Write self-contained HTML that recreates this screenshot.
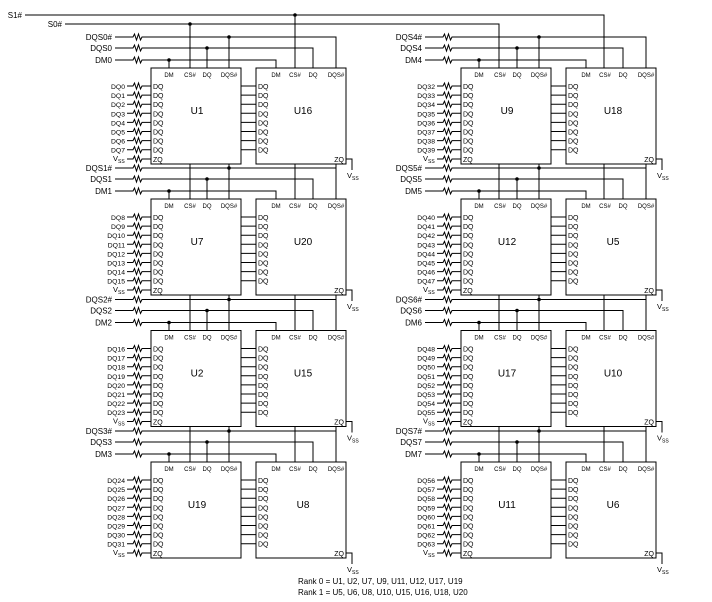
<!DOCTYPE html>
<html><head><meta charset="utf-8"><style>
html,body{margin:0;padding:0;background:#fff}
svg{display:block}
text{font-family:"Liberation Sans",sans-serif;fill:#000}
.s{font-size:8px}.p{font-size:6px}.q{font-size:7px}.d{font-size:6.8px}.n{font-size:10px}.v{font-size:7.5px}.ss{font-size:5px}
</style></head><body>
<svg width="712" height="602" viewBox="0 0 712 602" xmlns="http://www.w3.org/2000/svg">
<defs>
<g id="blk" fill="none" stroke="#000" stroke-width="1">
<path d="M115,-31h18l1.5-3 2,6 2-6 2,6 1.5-3H336V0M115,-20h18l1.5-3 2,6 2-6 2,6 1.5-3H313V0M115,-8h18l1.5-3 2,6 2-6 2,6 1.5-3H276V0M229,-31V0M207,-20V0M169,-8V0"/>
<path d="M127,18h6l1.5-3 2,6 2-6 2,6 1.5-3h9M127,27.1h6l1.5-3 2,6 2-6 2,6 1.5-3h9M127,36.2h6l1.5-3 2,6 2-6 2,6 1.5-3h9M127,45.3h6l1.5-3 2,6 2-6 2,6 1.5-3h9M127,54.4h6l1.5-3 2,6 2-6 2,6 1.5-3h9M127,63.5h6l1.5-3 2,6 2-6 2,6 1.5-3h9M127,72.6h6l1.5-3 2,6 2-6 2,6 1.5-3h9M127,81.7h6l1.5-3 2,6 2-6 2,6 1.5-3h9M127,91h6l1.5-3 2,6 2-6 2,6 1.5-3h9"/>
<path d="M241,18H256M241,27.1H256M241,36.2H256M241,45.3H256M241,54.4H256M241,63.5H256M241,72.6H256M241,81.7H256M346,91H352V102"/>
<rect x="151" y="0" width="90" height="96" fill="#fff"/>
<rect x="256" y="0" width="90" height="96" fill="#fff"/>
<g fill="#000" stroke="none"><circle cx="229" cy="-31" r="1.8"/><circle cx="207" cy="-20" r="1.8"/><circle cx="169" cy="-8" r="1.8"/></g>
</g>
<path id="cont" d="M229,-35V-31M336,-35V-31" stroke="#000" fill="none"/>
</defs>

<g fill="none" stroke="#000" stroke-width="1">
<path d="M25,15H604V462M65,24H499V462M190,24V462M295,15V462"/>
</g>
<circle cx="190" cy="24" r="1.8"/><circle cx="295" cy="15" r="1.8"/>
<text class="s" x="22" y="18" text-anchor="end">S1#</text>
<text class="s" x="62" y="27" text-anchor="end">S0#</text>

<use href="#blk" transform="translate(0,68)"/>
<use href="#blk" transform="translate(0,199)"/><use href="#cont" transform="translate(0,199)"/>
<use href="#blk" transform="translate(0,330.5)"/><use href="#cont" transform="translate(0,330.5)"/>
<use href="#blk" transform="translate(0,462)"/><use href="#cont" transform="translate(0,462)"/>
<use href="#blk" transform="translate(310,68)"/>
<use href="#blk" transform="translate(310,199)"/><use href="#cont" transform="translate(310,199)"/>
<use href="#blk" transform="translate(310,330.5)"/><use href="#cont" transform="translate(310,330.5)"/>
<use href="#blk" transform="translate(310,462)"/><use href="#cont" transform="translate(310,462)"/>

<!-- Block texts -->
<g transform="translate(0,68)">
<text class="s" text-anchor="end"><tspan x="112" y="-28">DQS0#</tspan><tspan x="112" y="-17">DQS0</tspan><tspan x="112" y="-5">DM0</tspan></text>
<text class="p" text-anchor="middle" y="9"><tspan x="169">DM</tspan><tspan x="190">CS#</tspan><tspan x="207">DQ</tspan><tspan x="229">DQS#</tspan><tspan x="276">DM</tspan><tspan x="295">CS#</tspan><tspan x="313">DQ</tspan><tspan x="336">DQS#</tspan></text>
<text class="q"><tspan x="153" y="21">DQ</tspan><tspan x="153" y="30.1">DQ</tspan><tspan x="153" y="39.2">DQ</tspan><tspan x="153" y="48.3">DQ</tspan><tspan x="153" y="57.4">DQ</tspan><tspan x="153" y="66.5">DQ</tspan><tspan x="153" y="75.6">DQ</tspan><tspan x="153" y="84.7">DQ</tspan><tspan x="153" y="94">ZQ</tspan></text>
<text class="q"><tspan x="258" y="21">DQ</tspan><tspan x="258" y="30.1">DQ</tspan><tspan x="258" y="39.2">DQ</tspan><tspan x="258" y="48.3">DQ</tspan><tspan x="258" y="57.4">DQ</tspan><tspan x="258" y="66.5">DQ</tspan><tspan x="258" y="75.6">DQ</tspan><tspan x="258" y="84.7">DQ</tspan></text>
<text class="q" x="344" y="94" text-anchor="end">ZQ</text>
<text class="d" text-anchor="end"><tspan x="125" y="21">DQ0</tspan><tspan x="125" y="30.1">DQ1</tspan><tspan x="125" y="39.2">DQ2</tspan><tspan x="125" y="48.3">DQ3</tspan><tspan x="125" y="57.4">DQ4</tspan><tspan x="125" y="66.5">DQ5</tspan><tspan x="125" y="75.6">DQ6</tspan><tspan x="125" y="84.7">DQ7</tspan></text>
<text class="v" x="113" y="93">V</text><text class="ss" x="118" y="95">SS</text>
<text class="v" x="347" y="110">V</text><text class="ss" x="352" y="112">SS</text>
<text class="n" text-anchor="middle" y="46"><tspan x="197">U1</tspan><tspan x="303">U16</tspan></text>
</g>

<g transform="translate(0,199)">
<text class="s" text-anchor="end"><tspan x="112" y="-28">DQS1#</tspan><tspan x="112" y="-17">DQS1</tspan><tspan x="112" y="-5">DM1</tspan></text>
<text class="p" text-anchor="middle" y="9"><tspan x="169">DM</tspan><tspan x="190">CS#</tspan><tspan x="207">DQ</tspan><tspan x="229">DQS#</tspan><tspan x="276">DM</tspan><tspan x="295">CS#</tspan><tspan x="313">DQ</tspan><tspan x="336">DQS#</tspan></text>
<text class="q"><tspan x="153" y="21">DQ</tspan><tspan x="153" y="30.1">DQ</tspan><tspan x="153" y="39.2">DQ</tspan><tspan x="153" y="48.3">DQ</tspan><tspan x="153" y="57.4">DQ</tspan><tspan x="153" y="66.5">DQ</tspan><tspan x="153" y="75.6">DQ</tspan><tspan x="153" y="84.7">DQ</tspan><tspan x="153" y="94">ZQ</tspan></text>
<text class="q"><tspan x="258" y="21">DQ</tspan><tspan x="258" y="30.1">DQ</tspan><tspan x="258" y="39.2">DQ</tspan><tspan x="258" y="48.3">DQ</tspan><tspan x="258" y="57.4">DQ</tspan><tspan x="258" y="66.5">DQ</tspan><tspan x="258" y="75.6">DQ</tspan><tspan x="258" y="84.7">DQ</tspan></text>
<text class="q" x="344" y="94" text-anchor="end">ZQ</text>
<text class="d" text-anchor="end"><tspan x="125" y="21">DQ8</tspan><tspan x="125" y="30.1">DQ9</tspan><tspan x="125" y="39.2">DQ10</tspan><tspan x="125" y="48.3">DQ11</tspan><tspan x="125" y="57.4">DQ12</tspan><tspan x="125" y="66.5">DQ13</tspan><tspan x="125" y="75.6">DQ14</tspan><tspan x="125" y="84.7">DQ15</tspan></text>
<text class="v" x="113" y="93">V</text><text class="ss" x="118" y="95">SS</text>
<text class="v" x="347" y="110">V</text><text class="ss" x="352" y="112">SS</text>
<text class="n" text-anchor="middle" y="46"><tspan x="197">U7</tspan><tspan x="303">U20</tspan></text>
</g>

<g transform="translate(0,330.5)">
<text class="s" text-anchor="end"><tspan x="112" y="-28">DQS2#</tspan><tspan x="112" y="-17">DQS2</tspan><tspan x="112" y="-5">DM2</tspan></text>
<text class="p" text-anchor="middle" y="9"><tspan x="169">DM</tspan><tspan x="190">CS#</tspan><tspan x="207">DQ</tspan><tspan x="229">DQS#</tspan><tspan x="276">DM</tspan><tspan x="295">CS#</tspan><tspan x="313">DQ</tspan><tspan x="336">DQS#</tspan></text>
<text class="q"><tspan x="153" y="21">DQ</tspan><tspan x="153" y="30.1">DQ</tspan><tspan x="153" y="39.2">DQ</tspan><tspan x="153" y="48.3">DQ</tspan><tspan x="153" y="57.4">DQ</tspan><tspan x="153" y="66.5">DQ</tspan><tspan x="153" y="75.6">DQ</tspan><tspan x="153" y="84.7">DQ</tspan><tspan x="153" y="94">ZQ</tspan></text>
<text class="q"><tspan x="258" y="21">DQ</tspan><tspan x="258" y="30.1">DQ</tspan><tspan x="258" y="39.2">DQ</tspan><tspan x="258" y="48.3">DQ</tspan><tspan x="258" y="57.4">DQ</tspan><tspan x="258" y="66.5">DQ</tspan><tspan x="258" y="75.6">DQ</tspan><tspan x="258" y="84.7">DQ</tspan></text>
<text class="q" x="344" y="94" text-anchor="end">ZQ</text>
<text class="d" text-anchor="end"><tspan x="125" y="21">DQ16</tspan><tspan x="125" y="30.1">DQ17</tspan><tspan x="125" y="39.2">DQ18</tspan><tspan x="125" y="48.3">DQ19</tspan><tspan x="125" y="57.4">DQ20</tspan><tspan x="125" y="66.5">DQ21</tspan><tspan x="125" y="75.6">DQ22</tspan><tspan x="125" y="84.7">DQ23</tspan></text>
<text class="v" x="113" y="93">V</text><text class="ss" x="118" y="95">SS</text>
<text class="v" x="347" y="110">V</text><text class="ss" x="352" y="112">SS</text>
<text class="n" text-anchor="middle" y="46"><tspan x="197">U2</tspan><tspan x="303">U15</tspan></text>
</g>

<g transform="translate(0,462)">
<text class="s" text-anchor="end"><tspan x="112" y="-28">DQS3#</tspan><tspan x="112" y="-17">DQS3</tspan><tspan x="112" y="-5">DM3</tspan></text>
<text class="p" text-anchor="middle" y="9"><tspan x="169">DM</tspan><tspan x="190">CS#</tspan><tspan x="207">DQ</tspan><tspan x="229">DQS#</tspan><tspan x="276">DM</tspan><tspan x="295">CS#</tspan><tspan x="313">DQ</tspan><tspan x="336">DQS#</tspan></text>
<text class="q"><tspan x="153" y="21">DQ</tspan><tspan x="153" y="30.1">DQ</tspan><tspan x="153" y="39.2">DQ</tspan><tspan x="153" y="48.3">DQ</tspan><tspan x="153" y="57.4">DQ</tspan><tspan x="153" y="66.5">DQ</tspan><tspan x="153" y="75.6">DQ</tspan><tspan x="153" y="84.7">DQ</tspan><tspan x="153" y="94">ZQ</tspan></text>
<text class="q"><tspan x="258" y="21">DQ</tspan><tspan x="258" y="30.1">DQ</tspan><tspan x="258" y="39.2">DQ</tspan><tspan x="258" y="48.3">DQ</tspan><tspan x="258" y="57.4">DQ</tspan><tspan x="258" y="66.5">DQ</tspan><tspan x="258" y="75.6">DQ</tspan><tspan x="258" y="84.7">DQ</tspan></text>
<text class="q" x="344" y="94" text-anchor="end">ZQ</text>
<text class="d" text-anchor="end"><tspan x="125" y="21">DQ24</tspan><tspan x="125" y="30.1">DQ25</tspan><tspan x="125" y="39.2">DQ26</tspan><tspan x="125" y="48.3">DQ27</tspan><tspan x="125" y="57.4">DQ28</tspan><tspan x="125" y="66.5">DQ29</tspan><tspan x="125" y="75.6">DQ30</tspan><tspan x="125" y="84.7">DQ31</tspan></text>
<text class="v" x="113" y="93">V</text><text class="ss" x="118" y="95">SS</text>
<text class="v" x="347" y="110">V</text><text class="ss" x="352" y="112">SS</text>
<text class="n" text-anchor="middle" y="46"><tspan x="197">U19</tspan><tspan x="303">U8</tspan></text>
</g>

<g transform="translate(310,68)">
<text class="s" text-anchor="end"><tspan x="112" y="-28">DQS4#</tspan><tspan x="112" y="-17">DQS4</tspan><tspan x="112" y="-5">DM4</tspan></text>
<text class="p" text-anchor="middle" y="9"><tspan x="169">DM</tspan><tspan x="190">CS#</tspan><tspan x="207">DQ</tspan><tspan x="229">DQS#</tspan><tspan x="276">DM</tspan><tspan x="295">CS#</tspan><tspan x="313">DQ</tspan><tspan x="336">DQS#</tspan></text>
<text class="q"><tspan x="153" y="21">DQ</tspan><tspan x="153" y="30.1">DQ</tspan><tspan x="153" y="39.2">DQ</tspan><tspan x="153" y="48.3">DQ</tspan><tspan x="153" y="57.4">DQ</tspan><tspan x="153" y="66.5">DQ</tspan><tspan x="153" y="75.6">DQ</tspan><tspan x="153" y="84.7">DQ</tspan><tspan x="153" y="94">ZQ</tspan></text>
<text class="q"><tspan x="258" y="21">DQ</tspan><tspan x="258" y="30.1">DQ</tspan><tspan x="258" y="39.2">DQ</tspan><tspan x="258" y="48.3">DQ</tspan><tspan x="258" y="57.4">DQ</tspan><tspan x="258" y="66.5">DQ</tspan><tspan x="258" y="75.6">DQ</tspan><tspan x="258" y="84.7">DQ</tspan></text>
<text class="q" x="344" y="94" text-anchor="end">ZQ</text>
<text class="d" text-anchor="end"><tspan x="125" y="21">DQ32</tspan><tspan x="125" y="30.1">DQ33</tspan><tspan x="125" y="39.2">DQ34</tspan><tspan x="125" y="48.3">DQ35</tspan><tspan x="125" y="57.4">DQ36</tspan><tspan x="125" y="66.5">DQ37</tspan><tspan x="125" y="75.6">DQ38</tspan><tspan x="125" y="84.7">DQ39</tspan></text>
<text class="v" x="113" y="93">V</text><text class="ss" x="118" y="95">SS</text>
<text class="v" x="347" y="110">V</text><text class="ss" x="352" y="112">SS</text>
<text class="n" text-anchor="middle" y="46"><tspan x="197">U9</tspan><tspan x="303">U18</tspan></text>
</g>

<g transform="translate(310,199)">
<text class="s" text-anchor="end"><tspan x="112" y="-28">DQS5#</tspan><tspan x="112" y="-17">DQS5</tspan><tspan x="112" y="-5">DM5</tspan></text>
<text class="p" text-anchor="middle" y="9"><tspan x="169">DM</tspan><tspan x="190">CS#</tspan><tspan x="207">DQ</tspan><tspan x="229">DQS#</tspan><tspan x="276">DM</tspan><tspan x="295">CS#</tspan><tspan x="313">DQ</tspan><tspan x="336">DQS#</tspan></text>
<text class="q"><tspan x="153" y="21">DQ</tspan><tspan x="153" y="30.1">DQ</tspan><tspan x="153" y="39.2">DQ</tspan><tspan x="153" y="48.3">DQ</tspan><tspan x="153" y="57.4">DQ</tspan><tspan x="153" y="66.5">DQ</tspan><tspan x="153" y="75.6">DQ</tspan><tspan x="153" y="84.7">DQ</tspan><tspan x="153" y="94">ZQ</tspan></text>
<text class="q"><tspan x="258" y="21">DQ</tspan><tspan x="258" y="30.1">DQ</tspan><tspan x="258" y="39.2">DQ</tspan><tspan x="258" y="48.3">DQ</tspan><tspan x="258" y="57.4">DQ</tspan><tspan x="258" y="66.5">DQ</tspan><tspan x="258" y="75.6">DQ</tspan><tspan x="258" y="84.7">DQ</tspan></text>
<text class="q" x="344" y="94" text-anchor="end">ZQ</text>
<text class="d" text-anchor="end"><tspan x="125" y="21">DQ40</tspan><tspan x="125" y="30.1">DQ41</tspan><tspan x="125" y="39.2">DQ42</tspan><tspan x="125" y="48.3">DQ43</tspan><tspan x="125" y="57.4">DQ44</tspan><tspan x="125" y="66.5">DQ45</tspan><tspan x="125" y="75.6">DQ46</tspan><tspan x="125" y="84.7">DQ47</tspan></text>
<text class="v" x="113" y="93">V</text><text class="ss" x="118" y="95">SS</text>
<text class="v" x="347" y="110">V</text><text class="ss" x="352" y="112">SS</text>
<text class="n" text-anchor="middle" y="46"><tspan x="197">U12</tspan><tspan x="303">U5</tspan></text>
</g>

<g transform="translate(310,330.5)">
<text class="s" text-anchor="end"><tspan x="112" y="-28">DQS6#</tspan><tspan x="112" y="-17">DQS6</tspan><tspan x="112" y="-5">DM6</tspan></text>
<text class="p" text-anchor="middle" y="9"><tspan x="169">DM</tspan><tspan x="190">CS#</tspan><tspan x="207">DQ</tspan><tspan x="229">DQS#</tspan><tspan x="276">DM</tspan><tspan x="295">CS#</tspan><tspan x="313">DQ</tspan><tspan x="336">DQS#</tspan></text>
<text class="q"><tspan x="153" y="21">DQ</tspan><tspan x="153" y="30.1">DQ</tspan><tspan x="153" y="39.2">DQ</tspan><tspan x="153" y="48.3">DQ</tspan><tspan x="153" y="57.4">DQ</tspan><tspan x="153" y="66.5">DQ</tspan><tspan x="153" y="75.6">DQ</tspan><tspan x="153" y="84.7">DQ</tspan><tspan x="153" y="94">ZQ</tspan></text>
<text class="q"><tspan x="258" y="21">DQ</tspan><tspan x="258" y="30.1">DQ</tspan><tspan x="258" y="39.2">DQ</tspan><tspan x="258" y="48.3">DQ</tspan><tspan x="258" y="57.4">DQ</tspan><tspan x="258" y="66.5">DQ</tspan><tspan x="258" y="75.6">DQ</tspan><tspan x="258" y="84.7">DQ</tspan></text>
<text class="q" x="344" y="94" text-anchor="end">ZQ</text>
<text class="d" text-anchor="end"><tspan x="125" y="21">DQ48</tspan><tspan x="125" y="30.1">DQ49</tspan><tspan x="125" y="39.2">DQ50</tspan><tspan x="125" y="48.3">DQ51</tspan><tspan x="125" y="57.4">DQ52</tspan><tspan x="125" y="66.5">DQ53</tspan><tspan x="125" y="75.6">DQ54</tspan><tspan x="125" y="84.7">DQ55</tspan></text>
<text class="v" x="113" y="93">V</text><text class="ss" x="118" y="95">SS</text>
<text class="v" x="347" y="110">V</text><text class="ss" x="352" y="112">SS</text>
<text class="n" text-anchor="middle" y="46"><tspan x="197">U17</tspan><tspan x="303">U10</tspan></text>
</g>

<g transform="translate(310,462)">
<text class="s" text-anchor="end"><tspan x="112" y="-28">DQS7#</tspan><tspan x="112" y="-17">DQS7</tspan><tspan x="112" y="-5">DM7</tspan></text>
<text class="p" text-anchor="middle" y="9"><tspan x="169">DM</tspan><tspan x="190">CS#</tspan><tspan x="207">DQ</tspan><tspan x="229">DQS#</tspan><tspan x="276">DM</tspan><tspan x="295">CS#</tspan><tspan x="313">DQ</tspan><tspan x="336">DQS#</tspan></text>
<text class="q"><tspan x="153" y="21">DQ</tspan><tspan x="153" y="30.1">DQ</tspan><tspan x="153" y="39.2">DQ</tspan><tspan x="153" y="48.3">DQ</tspan><tspan x="153" y="57.4">DQ</tspan><tspan x="153" y="66.5">DQ</tspan><tspan x="153" y="75.6">DQ</tspan><tspan x="153" y="84.7">DQ</tspan><tspan x="153" y="94">ZQ</tspan></text>
<text class="q"><tspan x="258" y="21">DQ</tspan><tspan x="258" y="30.1">DQ</tspan><tspan x="258" y="39.2">DQ</tspan><tspan x="258" y="48.3">DQ</tspan><tspan x="258" y="57.4">DQ</tspan><tspan x="258" y="66.5">DQ</tspan><tspan x="258" y="75.6">DQ</tspan><tspan x="258" y="84.7">DQ</tspan></text>
<text class="q" x="344" y="94" text-anchor="end">ZQ</text>
<text class="d" text-anchor="end"><tspan x="125" y="21">DQ56</tspan><tspan x="125" y="30.1">DQ57</tspan><tspan x="125" y="39.2">DQ58</tspan><tspan x="125" y="48.3">DQ59</tspan><tspan x="125" y="57.4">DQ60</tspan><tspan x="125" y="66.5">DQ61</tspan><tspan x="125" y="75.6">DQ62</tspan><tspan x="125" y="84.7">DQ63</tspan></text>
<text class="v" x="113" y="93">V</text><text class="ss" x="118" y="95">SS</text>
<text class="v" x="347" y="110">V</text><text class="ss" x="352" y="112">SS</text>
<text class="n" text-anchor="middle" y="46"><tspan x="197">U11</tspan><tspan x="303">U6</tspan></text>
</g>

<text class="s" x="298" y="584">Rank 0 = U1, U2, U7, U9, U11, U12, U17, U19</text>
<text class="s" x="298" y="595">Rank 1 = U5, U6, U8, U10, U15, U16, U18, U20</text>
</svg>
</body></html>
